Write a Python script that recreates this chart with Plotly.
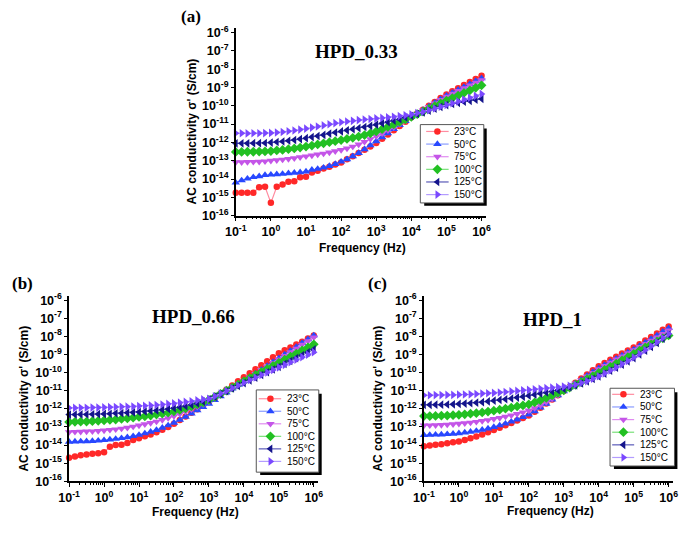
import plotly.graph_objects as go

# page is shown with the browser's default 8px body margin
W, H = 687, 534
OFF = 8
FW, FH = W - OFF, H - OFF

# ---------------- data ----------------
freq_hz = [0.1, 0.147, 0.215, 0.316, 0.464, 0.681,
           1, 1.47, 2.15, 3.16, 4.64, 6.81,
           10, 14.7, 21.5, 31.6, 46.4, 68.1,
           100, 147, 215, 316, 464, 681,
           1e3, 1.47e3, 2.15e3, 3.16e3, 4.64e3, 6.81e3,
           1e4, 1.47e4, 2.15e4, 3.16e4, 4.64e4, 6.81e4,
           1e5, 1.47e5, 2.15e5, 3.16e5, 4.64e5, 6.81e5, 1e6]

temps = ["23°C", "50°C", "75°C", "100°C", "125°C", "150°C"]
panel_titles = ["HPD_0.33", "HPD_0.66", "HPD_1"]
panel_labels = ["(a)", "(b)", "(c)"]
x_tick_exp = [-1, 0, 1, 2, 3, 4, 5, 6]
y_tick_exp = [-16, -15, -14, -13, -12, -11, -10, -9, -8, -7, -6]

# log10 of AC conductivity (S/cm)
a_23 = [-14.75, -14.75, -14.75, -14.75, -14.45, -14.42, -15.30,
        -14.42, -14.30, -14.15, -14.12, -13.90, -13.88,
        -13.65, -13.55, -13.42, -13.33, -13.20, -13.10,
        -12.92, -12.76, -12.58, -12.40, -12.22, -12.03,
        -11.80, -11.57, -11.34, -11.11, -10.87, -10.63,
        -10.42, -10.21, -10.00, -9.79, -9.58, -9.38,
        -9.21, -9.04, -8.87, -8.70, -8.53, -8.36]
a_50 = [-14.20, -14.08, -13.98, -13.90, -13.85, -13.78, -13.76,
        -13.74, -13.72, -13.69, -13.66, -13.63, -13.59,
        -13.50, -13.45, -13.38, -13.29, -13.18, -13.05,
        -12.92, -12.76, -12.58, -12.38, -12.16, -11.94,
        -11.72, -11.50, -11.28, -11.06, -10.84, -10.62,
        -10.42, -10.23, -10.04, -9.84, -9.64, -9.45,
        -9.29, -9.13, -8.97, -8.81, -8.65, -8.50]
a_75 = [-13.08, -13.08, -13.07, -13.06, -13.05, -13.03, -13.00,
        -12.97, -12.94, -12.90, -12.86, -12.81, -12.76,
        -12.71, -12.66, -12.61, -12.55, -12.48, -12.41,
        -12.33, -12.23, -12.11, -11.97, -11.82, -11.66,
        -11.50, -11.34, -11.17, -11.00, -10.82, -10.63,
        -10.44, -10.25, -10.06, -9.87, -9.68, -9.50,
        -9.34, -9.18, -9.03, -8.88, -8.74, -8.60]
a_100 = [-12.52, -12.52, -12.51, -12.51, -12.50, -12.49, -12.47,
         -12.44, -12.41, -12.37, -12.33, -12.28, -12.23,
         -12.17, -12.11, -12.05, -11.99, -11.93, -11.87,
         -11.81, -11.75, -11.68, -11.60, -11.51, -11.40,
         -11.28, -11.15, -11.02, -10.88, -10.74, -10.60,
         -10.46, -10.32, -10.17, -10.02, -9.87, -9.72,
         -9.58, -9.44, -9.30, -9.16, -9.02, -8.88]
a_125 = [-12.05, -12.05, -12.05, -12.04, -12.04, -12.03, -12.01,
         -11.98, -11.95, -11.91, -11.87, -11.82, -11.77,
         -11.71, -11.65, -11.59, -11.52, -11.46, -11.40,
         -11.34, -11.28, -11.22, -11.16, -11.10, -11.03,
         -10.96, -10.89, -10.81, -10.73, -10.64, -10.55,
         -10.45, -10.36, -10.26, -10.16, -10.06, -9.96,
         -9.90, -9.84, -9.78, -9.73, -9.67, -9.62]
a_150 = [-11.50, -11.50, -11.51, -11.50, -11.50, -11.49, -11.48,
         -11.46, -11.43, -11.39, -11.35, -11.30, -11.25,
         -11.19, -11.13, -11.07, -11.01, -10.95, -10.90,
         -10.86, -10.82, -10.78, -10.75, -10.72, -10.69,
         -10.66, -10.63, -10.60, -10.56, -10.52, -10.47,
         -10.40, -10.33, -10.24, -10.15, -10.05, -9.95,
         -9.86, -9.76, -9.66, -9.56, -9.46, -9.35]

b_23 = [-14.70, -14.63, -14.56, -14.52, -14.48, -14.45, -14.40,
        -14.10, -14.00, -13.98, -13.88, -13.72, -13.62,
        -13.52, -13.42, -13.30, -13.16, -13.00, -12.82,
        -12.62, -12.42, -12.22, -12.02, -11.82, -11.62,
        -11.40, -11.17, -10.94, -10.71, -10.48, -10.25,
        -10.03, -9.81, -9.59, -9.37, -9.15, -8.93,
        -8.77, -8.61, -8.45, -8.29, -8.12, -7.95]
b_50 = [-13.82, -13.81, -13.80, -13.79, -13.78, -13.76, -13.73,
        -13.70, -13.66, -13.62, -13.57, -13.51, -13.44,
        -13.36, -13.27, -13.17, -13.05, -12.92, -12.77,
        -12.61, -12.44, -12.26, -12.08, -11.90, -11.72,
        -11.52, -11.31, -11.10, -10.89, -10.68, -10.46,
        -10.26, -10.05, -9.84, -9.63, -9.42, -9.21,
        -9.00, -8.79, -8.58, -8.37, -8.16, -7.95]
b_75 = [-13.28, -13.27, -13.26, -13.25, -13.24, -13.22, -13.19,
        -13.16, -13.13, -13.09, -13.04, -12.98, -12.92,
        -12.85, -12.78, -12.70, -12.61, -12.51, -12.40,
        -12.28, -12.15, -12.02, -11.88, -11.74, -11.60,
        -11.42, -11.23, -11.04, -10.85, -10.66, -10.47,
        -10.27, -10.07, -9.87, -9.67, -9.47, -9.27,
        -9.07, -8.87, -8.67, -8.46, -8.26, -8.05]
b_100 = [-12.73, -12.72, -12.71, -12.70, -12.68, -12.66, -12.64,
         -12.61, -12.59, -12.56, -12.53, -12.49, -12.45,
         -12.41, -12.37, -12.32, -12.27, -12.21, -12.14,
         -12.06, -11.97, -11.87, -11.76, -11.64, -11.50,
         -11.34, -11.17, -11.00, -10.83, -10.66, -10.48,
         -10.31, -10.14, -9.97, -9.80, -9.63, -9.46,
         -9.29, -9.12, -8.95, -8.78, -8.61, -8.44]
b_125 = [-12.32, -12.32, -12.31, -12.31, -12.30, -12.29, -12.28,
         -12.27, -12.25, -12.24, -12.22, -12.20, -12.18,
         -12.15, -12.12, -12.09, -12.05, -12.01, -11.96,
         -11.91, -11.85, -11.78, -11.70, -11.60, -11.48,
         -11.33, -11.18, -11.03, -10.88, -10.73, -10.58,
         -10.43, -10.28, -10.13, -9.98, -9.83, -9.68,
         -9.52, -9.36, -9.20, -9.04, -8.88, -8.72]
b_150 = [-11.95, -11.95, -11.94, -11.94, -11.93, -11.93, -11.92,
         -11.91, -11.90, -11.89, -11.88, -11.87, -11.85,
         -11.83, -11.81, -11.79, -11.76, -11.73, -11.70,
         -11.66, -11.62, -11.58, -11.53, -11.48, -11.45,
         -11.31, -11.16, -11.01, -10.86, -10.71, -10.56,
         -10.41, -10.27, -10.13, -9.99, -9.85, -9.71,
         -9.57, -9.43, -9.29, -9.15, -9.01, -8.87]

c_23 = [-14.07, -14.03, -13.99, -13.95, -13.90, -13.85, -13.80,
        -13.72, -13.63, -13.53, -13.42, -13.30, -13.17,
        -13.04, -12.91, -12.78, -12.65, -12.51, -12.37,
        -12.16, -11.94, -11.71, -11.48, -11.25, -11.02,
        -10.79, -10.56, -10.33, -10.10, -9.87, -9.65,
        -9.47, -9.29, -9.12, -8.95, -8.78, -8.62,
        -8.43, -8.23, -8.04, -7.84, -7.64, -7.45]
c_50 = [-13.45, -13.44, -13.43, -13.42, -13.40, -13.38, -13.35,
        -13.31, -13.27, -13.22, -13.16, -13.09, -13.01,
        -12.92, -12.82, -12.71, -12.59, -12.46, -12.32,
        -12.14, -11.94, -11.72, -11.49, -11.26, -11.03,
        -10.81, -10.60, -10.39, -10.18, -9.97, -9.76,
        -9.58, -9.40, -9.23, -9.06, -8.89, -8.72,
        -8.53, -8.34, -8.15, -7.95, -7.75, -7.55]
c_75 = [-12.92, -12.91, -12.90, -12.89, -12.87, -12.85, -12.82,
        -12.79, -12.76, -12.72, -12.67, -12.62, -12.56,
        -12.50, -12.43, -12.36, -12.28, -12.19, -12.09,
        -11.96, -11.80, -11.62, -11.43, -11.23, -11.02,
        -10.82, -10.61, -10.41, -10.21, -10.01, -9.81,
        -9.63, -9.45, -9.27, -9.10, -8.93, -8.76,
        -8.58, -8.41, -8.23, -8.05, -7.86, -7.67]
c_100 = [-12.40, -12.40, -12.39, -12.38, -12.37, -12.35, -12.33,
         -12.30, -12.27, -12.24, -12.20, -12.15, -12.10,
         -12.05, -11.99, -11.93, -11.87, -11.81, -11.75,
         -11.65, -11.53, -11.40, -11.26, -11.12, -10.98,
         -10.83, -10.68, -10.52, -10.36, -10.19, -10.02,
         -9.85, -9.68, -9.51, -9.33, -9.15, -8.97,
         -8.79, -8.61, -8.44, -8.27, -8.11, -7.95]
c_125 = [-11.78, -11.78, -11.77, -11.77, -11.76, -11.75, -11.73,
         -11.71, -11.69, -11.66, -11.63, -11.59, -11.55,
         -11.51, -11.47, -11.43, -11.38, -11.33, -11.28,
         -11.22, -11.16, -11.10, -11.04, -10.97, -10.90,
         -10.81, -10.71, -10.60, -10.48, -10.35, -10.21,
         -10.06, -9.90, -9.73, -9.56, -9.38, -9.20,
         -9.00, -8.79, -8.58, -8.36, -8.13, -7.90]
c_150 = [-11.25, -11.25, -11.24, -11.24, -11.23, -11.23, -11.22,
         -11.21, -11.20, -11.18, -11.16, -11.14, -11.12,
         -11.10, -11.07, -11.04, -11.01, -10.98, -10.95,
         -10.92, -10.89, -10.86, -10.83, -10.80, -10.77,
         -10.73, -10.67, -10.58, -10.47, -10.34, -10.20,
         -10.04, -9.88, -9.71, -9.53, -9.35, -9.16,
         -8.96, -8.75, -8.54, -8.32, -8.09, -7.86]

panels = [
    [a_23, a_50, a_75, a_100, a_125, a_150],
    [b_23, b_50, b_75, b_100, b_125, b_150],
    [c_23, c_50, c_75, c_100, c_125, c_150],
]

# ---------------- styles ----------------
marker_colors = ["#ff2828", "#2848ff", "#c455e8", "#22c022", "#14148c", "#7a48ff"]
line_colors = ["#ff8ca0", "#8a9cff", "#e08cf0", "#78e078", "#5a5ab8", "#b39cff"]
symbols = ["circle", "triangle-up", "triangle-down", "diamond", "triangle-left", "triangle-right"]
msizes = [6.5, 7.5, 7.5, 7.5, 7.5, 7.5]

SANS = "Liberation Sans, Arial, sans-serif"
SERIF = "Liberation Serif, Times New Roman, serif"

def fx(px):
    return (px - OFF) / FW

def fy(py):
    return 1 - (py - OFF) / FH

XR = [-1, 6.12]
YR = [-16, -5.75]
boxes = [
    dict(l=230.0, dec=35.96, b=216.0, ydec=18.7),
    dict(l=59.3, dec=35.8, b=487.3, ydec=18.5),
    dict(l=422.7, dec=35.8, b=487.3, ydec=18.5),
]

title_pos = [(353.7, 48.7), (186.3, 319.0), (554.7, 321.7)]
label_pos = [(183.8, 13.0), (12.0, 285.0), (375.0, 285.0)]
ytitle_x = [185.0, 13.5, 376.0]
xtitle_y = [249.3, 519.0, 518.0]

legend_boxes = [
    dict(l=419, r=484, t=123, b=203, x0=425, x1=448, xm=436.5, xt=451, y0=130.0, dy=12.9),
    dict(l=251, r=315, t=394, b=478, x0=253.5, x1=276.5, xm=265.5, xt=280, y0=403.0, dy=12.8),
    dict(l=613.3, r=679.3, t=392.3, b=471.7, x0=615.5, x1=638, xm=627, xt=641.5, y0=398.5, dy=12.9),
]

fig = go.Figure()
layout = dict(
    width=FW, height=FH,
    margin=dict(l=0, r=0, t=0, b=0),
    paper_bgcolor="white",
    plot_bgcolor="rgba(0,0,0,0)",
    showlegend=False,
)
annotations = []
shapes = []

xtickvals = [10.0 ** e for e in x_tick_exp]
xticktext = ["10<sup>%d</sup>" % e for e in x_tick_exp]
ytickvals = [10.0 ** e for e in y_tick_exp]
yticktext = ["10<sup>%d</sup>" % e for e in y_tick_exp]

for p in range(3):
    bx = boxes[p]
    xl = bx["l"]
    xr = xl + (XR[1] - XR[0]) * bx["dec"]
    yb = bx["b"]
    yt = yb - (YR[1] - YR[0]) * bx["ydec"]
    xa = "xaxis" if p == 0 else "xaxis%d" % (p + 1)
    ya = "yaxis" if p == 0 else "yaxis%d" % (p + 1)
    xref = "x" if p == 0 else "x%d" % (p + 1)
    yref = "y" if p == 0 else "y%d" % (p + 1)
    layout[xa] = dict(
        type="log", range=XR, domain=[fx(xl), fx(xr)], anchor=yref,
        showline=True, linecolor="black", linewidth=1.5, mirror=False,
        showgrid=False, zeroline=False,
        ticks="outside", ticklen=4, tickwidth=1.2, tickcolor="black",
        tickvals=xtickvals, ticktext=xticktext,
        tickfont=dict(family=SANS, size=12.5, color="black", weight="bold"),
        minor=dict(ticks="outside", ticklen=2, tickwidth=1, tickcolor="black",
                   tickvals=[m * 10.0 ** e for e in range(-1, 6) for m in range(2, 10)]),
    )
    layout[ya] = dict(
        type="log", range=YR, domain=[fy(yb), fy(yt)], anchor=xref,
        showline=True, linecolor="black", linewidth=1.5, mirror=False,
        showgrid=False, zeroline=False,
        ticks="outside", ticklen=3, tickwidth=1.2, tickcolor="black",
        tickvals=ytickvals, ticktext=yticktext,
        tickfont=dict(family=SANS, size=12.5, color="black", weight="bold"),
    )
    for k in range(6):
        vals = panels[p][k]
        fig.add_trace(go.Scatter(
            x=freq_hz, y=[10.0 ** v for v in vals],
            mode="lines+markers", name=temps[k],
            xaxis=xref, yaxis=yref, cliponaxis=False,
            line=dict(color=line_colors[k], width=1.2),
            marker=dict(symbol=symbols[k], size=msizes[k], color=marker_colors[k],
                        line=dict(width=0)),
            showlegend=False,
        ))
    tx, ty = title_pos[p]
    annotations.append(dict(x=fx(tx), y=fy(ty), xref="paper", yref="paper",
                            text="<b>%s</b>" % panel_titles[p], showarrow=False,
                            font=dict(family=SERIF, size=19, color="black"),
                            xanchor="center", yanchor="middle"))
    lx, ly = label_pos[p]
    annotations.append(dict(x=fx(lx), y=fy(ly), xref="paper", yref="paper",
                            text="<b>%s</b>" % panel_labels[p], showarrow=False,
                            font=dict(family=SERIF, size=17, color="black"),
                            xanchor="center", yanchor="middle"))
    annotations.append(dict(x=fx(ytitle_x[p]), y=fy((yb + yt) / 2 + 10), xref="paper", yref="paper",
                            text="<b>AC conductivity σ' (S/cm)</b>", showarrow=False, textangle=-90,
                            font=dict(family=SANS, size=12, color="black"),
                            xanchor="center", yanchor="middle"))
    annotations.append(dict(x=fx((xl + xl + 7 * bx["dec"]) / 2 + 4), y=fy(xtitle_y[p]), xref="paper", yref="paper",
                            text="<b>Frequency (Hz)</b>", showarrow=False,
                            font=dict(family=SANS, size=12, color="black"),
                            xanchor="center", yanchor="middle"))

    # custom legend (box + shadow + samples)
    lg = legend_boxes[p]
    shapes.append(dict(type="rect", xref="paper", yref="paper", layer="below",
                       x0=fx(lg["l"] + 4), x1=fx(lg["r"] + 3), y0=fy(lg["b"] + 3), y1=fy(lg["t"] + 4),
                       line=dict(width=0), fillcolor="black"))
    shapes.append(dict(type="rect", xref="paper", yref="paper", layer="below",
                       x0=fx(lg["l"]), x1=fx(lg["r"]), y0=fy(lg["b"]), y1=fy(lg["t"]),
                       line=dict(width=1, color="#555555"), fillcolor="white"))
    lxa = "xaxis%d" % (p + 4)
    lya = "yaxis%d" % (p + 4)
    lxr = "x%d" % (p + 4)
    lyr = "y%d" % (p + 4)
    layout[lxa] = dict(domain=[0, 1], range=[OFF, OFF + FW], visible=False, anchor=lyr, fixedrange=True)
    layout[lya] = dict(domain=[0, 1], range=[OFF + FH, OFF], visible=False, anchor=lxr, fixedrange=True)
    for k in range(6):
        ry = lg["y0"] + k * lg["dy"]
        fig.add_trace(go.Scatter(
            x=[lg["x0"], lg["x1"]], y=[ry, ry], mode="lines",
            xaxis=lxr, yaxis=lyr, hoverinfo="skip", showlegend=False,
            line=dict(color=line_colors[k], width=1.2)))
        fig.add_trace(go.Scatter(
            x=[lg["xm"]], y=[ry], mode="markers",
            xaxis=lxr, yaxis=lyr, hoverinfo="skip", showlegend=False,
            marker=dict(symbol=symbols[k], size=msizes[k], color=marker_colors[k], line=dict(width=0))))
        annotations.append(dict(x=fx(lg["xt"]), y=fy(ry), xref="paper", yref="paper",
                                text=temps[k], showarrow=False,
                                font=dict(family=SANS, size=10, color="black"),
                                xanchor="left", yanchor="middle"))

layout["annotations"] = annotations
layout["shapes"] = shapes
fig.update_layout(**layout)
fig.write_html("out.html")
